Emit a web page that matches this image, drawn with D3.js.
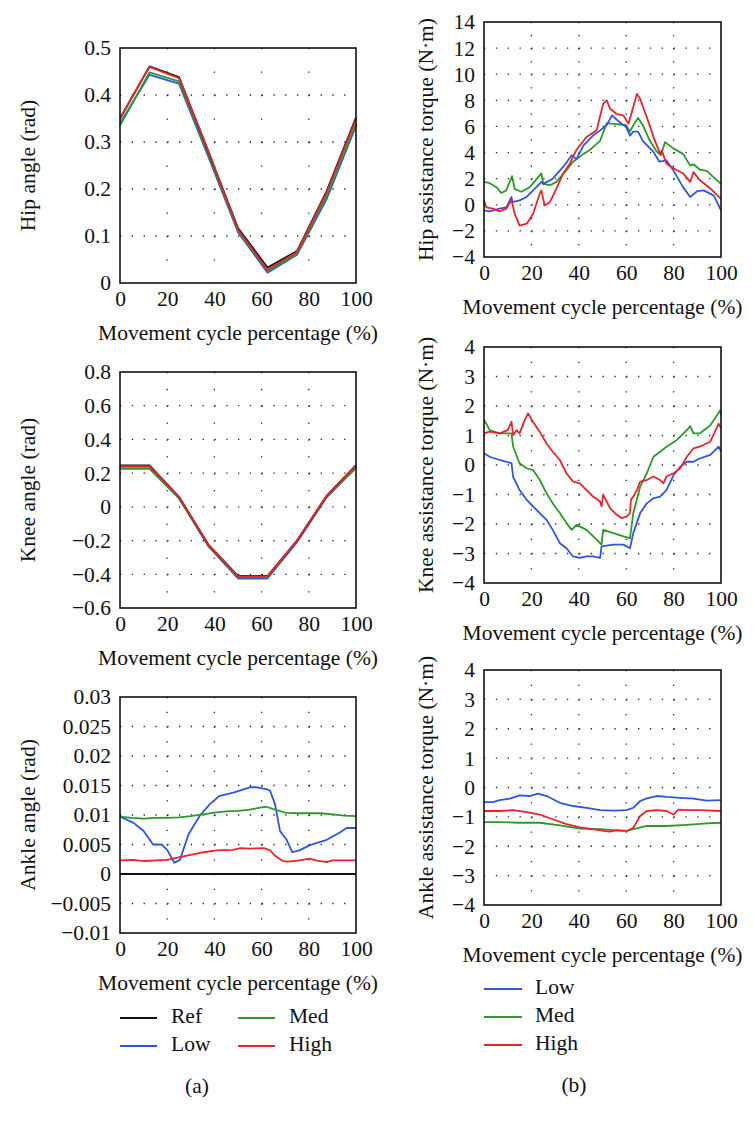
<!DOCTYPE html>
<html>
<head>
<meta charset="utf-8">
<script src="https://cdn.jsdelivr.net/npm/d3@7"></script>
<style>
  body { margin: 0; background: #fff; }
  text { font-family: "Liberation Serif", "DejaVu Serif", serif; fill: #111; }
</style>
</head>
<body>
<svg id="plot"></svg>
<script>
// ---- data ----
const pct = [0, 12.5, 25, 37.5, 50, 62.5, 75, 87.5, 100];

// (a) joint angles
const hipRef  = [0.350, 0.461, 0.438, 0.279, 0.117, 0.033, 0.068, 0.195, 0.352];
const hipLow  = [0.340, 0.443, 0.424, 0.268, 0.108, 0.022, 0.060, 0.178, 0.334];
const hipMed  = [0.335, 0.448, 0.429, 0.273, 0.111, 0.025, 0.062, 0.184, 0.338];
const hipHigh = [0.350, 0.460, 0.436, 0.280, 0.114, 0.028, 0.066, 0.192, 0.348];

const kneeRef  = [0.246, 0.246, 0.060, -0.225, -0.410, -0.410, -0.200, 0.065, 0.248];
const kneeLow  = [0.230, 0.230, 0.052, -0.235, -0.425, -0.425, -0.210, 0.055, 0.235];
const kneeMed  = [0.225, 0.225, 0.050, -0.230, -0.418, -0.418, -0.205, 0.060, 0.230];
const kneeHigh = [0.242, 0.242, 0.058, -0.225, -0.412, -0.412, -0.200, 0.064, 0.245];

const ankleRef = [[0, 0], [100, 0]];
const ankleLow = [[0, 0.0097], [5.6, 0.0087], [10, 0.0073], [14, 0.005], [17.6, 0.005], [20, 0.0041],
  [23, 0.0019], [25.4, 0.0024], [29, 0.0067], [34, 0.010], [38, 0.0118], [42, 0.0132], [48, 0.0138],
  [55, 0.0147], [58, 0.0147], [62, 0.0144], [63.6, 0.0141], [65.7, 0.0118], [67.8, 0.0073],
  [70.6, 0.0058], [73, 0.0037], [76, 0.004], [80.5, 0.0049], [87.6, 0.0058], [93, 0.007],
  [96, 0.0078], [100, 0.0078]];
const ankleMed = [[0, 0.0097], [5, 0.0095], [10, 0.0094], [15, 0.0095], [20, 0.0095], [25, 0.0096],
  [30, 0.0098], [35, 0.0101], [40, 0.0104], [45, 0.0106], [50, 0.0107], [55, 0.0109], [60, 0.0113],
  [62, 0.0114], [65, 0.011], [70, 0.0104], [75, 0.0103], [80, 0.0103], [85, 0.0103], [90, 0.0101],
  [95, 0.0099], [100, 0.0098]];
const ankleHigh = [[0, 0.0023], [5.6, 0.0024], [10, 0.0022], [20, 0.0024], [26.8, 0.003], [34, 0.0036],
  [41, 0.004], [48, 0.0041], [51, 0.0044], [55, 0.0043], [61, 0.0044], [63.6, 0.004], [66, 0.003],
  [69, 0.0022], [71, 0.0021], [76, 0.0023], [80.5, 0.0026], [83, 0.0023], [87.6, 0.002], [90, 0.0023],
  [100, 0.0023]];

// (b) assistance torques
const hipTqLow = [[0, -0.43], [2.4, -0.5], [6.6, -0.3], [9.4, -0.2], [11.6, 0.6], [12, 0.2], [15, 0.34],
  [18, 0.6], [20.7, 1.1], [24.3, 1.75], [25, 1.6], [29, 2.0], [33.4, 2.9], [37, 3.8], [39, 3.5],
  [42, 4.55], [46, 5.3], [49, 5.7], [51.8, 6.1], [54, 6.85], [57.4, 6.3], [60, 5.95], [61.6, 5.3],
  [63, 5.6], [65, 5.6], [67, 4.9], [71.5, 4.05], [74, 3.3], [77, 3.4], [80, 2.6], [84, 1.35],
  [87, 0.6], [90, 1.05], [92.7, 1.1], [97, 0.7], [100, -0.43]];
const hipTqMed = [[0, 1.75], [2.4, 1.65], [5.2, 1.35], [7.3, 0.9], [9.4, 1.1], [11.8, 2.2], [13, 1.2],
  [15.8, 1.0], [19.3, 1.35], [23.5, 2.25], [24.2, 2.4], [25, 1.6], [27.8, 1.5], [30.6, 1.75],
  [34.8, 2.65], [37.6, 3.3], [42, 3.9], [44.7, 4.2], [49, 4.9], [51.8, 6.25], [54.6, 6.2], [57.4, 6.15],
  [60, 6.1], [61.6, 5.6], [63, 6.1], [65, 6.65], [67, 6.1], [70, 4.9], [73, 4.05], [74.6, 3.8],
  [76.4, 4.8], [80, 4.3], [84, 3.9], [87, 3.0], [88.4, 3.1], [91, 2.7], [94, 2.6], [96, 2.25], [100, 1.6]];
const hipTqHigh = [[0, 0.35], [1, -0.2], [3.8, -0.3], [6.6, -0.5], [9.4, -0.3], [11.6, 0.35], [13, -0.7],
  [15, -1.6], [18, -1.45], [20.7, -0.7], [23.5, 0.85], [24.2, 1.1], [25.6, -0.05], [27.8, 0.2],
  [30.6, 1.25], [33.4, 2.4], [36.2, 3.15], [39, 4.2], [43.3, 5.2], [47.5, 5.7], [50.3, 7.75],
  [51.8, 8.0], [53.2, 7.35], [56, 6.95], [58.8, 6.85], [61, 6.2], [63, 7.5], [64.5, 8.5], [65.9, 8.1],
  [68.7, 6.7], [71.5, 5.2], [74.3, 3.9], [75, 4.15], [77, 3.15], [80, 2.8], [84, 2.4], [87, 1.75],
  [88.4, 2.5], [91, 1.9], [95.5, 1.25], [100, 0.45]];

const kneeTqLow = [[0, 0.4], [2.4, 0.28], [6.6, 0.17], [11.6, 0.06], [12.3, -0.4], [15, -0.85], [18, -1.18],
  [20.7, -1.4], [23.5, -1.63], [26.4, -1.86], [29, -2.2], [32, -2.65], [34.8, -2.82], [37.6, -3.1],
  [40.5, -3.15], [43.3, -3.1], [46, -3.1], [49, -3.15], [49.6, -2.76], [54.6, -2.7], [58.8, -2.7],
  [61.6, -2.82], [63, -2.3], [65.9, -1.63], [68.7, -1.3], [71.5, -1.13], [74.3, -1.07], [77, -0.85],
  [80, -0.34], [82.8, -0.06], [85.6, 0.11], [88.4, 0.11], [91, 0.22], [95.5, 0.34], [99, 0.62], [100, 0.45]];
const kneeTqMed = [[0, 1.52], [1, 1.4], [2.4, 1.18], [6.6, 1.07], [11.6, 1.07], [12.3, 0.62], [15, 0.06],
  [18, -0.11], [20.7, -0.17], [23.5, -0.5], [26.4, -0.96], [29, -1.3], [32, -1.63], [34.8, -1.97],
  [37, -2.2], [39, -2.03], [43.3, -2.2], [47.5, -2.53], [49.6, -2.7], [50.3, -2.2], [54.6, -2.31],
  [58.8, -2.42], [61.6, -2.48], [63, -1.63], [65.9, -0.73], [68.7, -0.28], [71.5, 0.28], [74.3, 0.45],
  [77, 0.62], [81.4, 0.85], [85.6, 1.18], [87, 1.32], [88.4, 1.07], [91, 1.07], [95.5, 1.35],
  [99.7, 1.86], [100, 1.69]];
const kneeTqHigh = [[0, 1.07], [2.4, 1.13], [6.6, 1.07], [10, 1.18], [11.6, 1.46], [12.3, 1.01], [13.7, 1.18],
  [15, 1.07], [17.2, 1.52], [18.6, 1.75], [20.7, 1.46], [23.5, 1.13], [26.4, 0.73], [29, 0.45], [32, 0.17],
  [34.8, -0.28], [37.6, -0.56], [40.5, -0.62], [43.3, -0.85], [46, -1.07], [49, -1.24], [49.6, -1.4],
  [50.3, -1.01], [53.2, -1.46], [56, -1.69], [58, -1.8], [60.2, -1.75], [61.6, -1.63], [62, -1.18],
  [63, -1.07], [64.5, -0.85], [65.9, -0.56], [68.7, -0.51], [71.5, -0.39], [74.3, -0.51], [75.7, -0.62],
  [77, -0.39], [80, -0.28], [82.8, -0.11], [85.6, 0.28], [88.4, 0.56], [91, 0.62], [95.5, 0.79],
  [99, 1.4], [100, 1.24]];

const ankleTqLow = [[0, -0.5], [3.8, -0.5], [6.6, -0.43], [10.9, -0.38], [15, -0.27], [19.3, -0.29],
  [22.8, -0.21], [26.4, -0.29], [32, -0.52], [37.6, -0.63], [43.3, -0.69], [49, -0.77], [54.6, -0.79],
  [60.2, -0.77], [63, -0.69], [65.9, -0.46], [68.7, -0.37], [72.9, -0.29], [77, -0.32], [82.8, -0.35],
  [88.4, -0.38], [94, -0.45], [100, -0.43]];
const ankleTqMed = [[0, -1.18], [6.6, -1.18], [15, -1.2], [23.5, -1.2], [32, -1.29], [40.5, -1.4],
  [49, -1.42], [54.6, -1.45], [60.2, -1.48], [63, -1.42], [68.7, -1.31], [77, -1.31], [85.6, -1.27],
  [94, -1.22], [100, -1.2]];
const ankleTqHigh = [[0, -0.8], [6.6, -0.8], [12.3, -0.77], [18, -0.84], [23.5, -0.92], [29, -1.08],
  [34.8, -1.25], [40.5, -1.36], [46, -1.42], [50.3, -1.48], [53.2, -1.5], [56, -1.46], [60.2, -1.48],
  [63, -1.37], [65.9, -0.97], [68.7, -0.8], [72.9, -0.77], [77, -0.8], [80, -0.92], [82, -0.75],
  [85.6, -0.77], [91, -0.77], [100, -0.8]];

const xTicks = [0, 20, 40, 60, 80, 100];
const legendA = ["Ref", "Low", "Med", "High"];
const legendB = ["Low", "Med", "High"];

const colors = { Ref: "#111111", Low: "#2d55e0", Med: "#2a9a2a", High: "#e8242b" };

// ---- layout ----
const svg = d3.select("#plot").attr("width", 754).attr("height", 1133);
const fontSize = 21.5;
const zip = (xs, ys) => xs.map((x, i) => [x, ys[i]]);

function panel(opts) {
  const g = svg.append("g");
  const x = d3.scaleLinear().domain([0, 100]).range([opts.left, opts.right]);
  const y = d3.scaleLinear().domain(opts.yDomain).range([opts.bottom, opts.top]);
  const yTicks = d3.range(opts.yDomain[0], opts.yDomain[1] + opts.yStep / 2, opts.yStep)
    .map(v => +v.toFixed(4));

  // dotted grid
  const hPeriod = x(5) - x(0);
  const vPeriod = (y(0) - y(opts.yStep)) / 2;
  g.selectAll(".hgrid").data(yTicks.slice(1, -1).filter(v => !(opts.noGridAt0 && v === 0)))
    .enter().append("line")
    .attr("x1", x(0)).attr("x2", x(100))
    .attr("y1", d => y(d)).attr("y2", d => y(d))
    .attr("stroke", "#222").attr("stroke-width", 1.3)
    .attr("stroke-dasharray", `1.3 ${hPeriod - 1.3}`);
  g.selectAll(".vgrid").data(xTicks.slice(1, -1))
    .enter().append("line")
    .attr("x1", d => x(d)).attr("x2", d => x(d))
    .attr("y1", y(opts.yDomain[1])).attr("y2", y(opts.yDomain[0]))
    .attr("stroke", "#222").attr("stroke-width", 1.3)
    .attr("stroke-dasharray", `1.3 ${vPeriod - 1.3}`);

  // series
  const line = d3.line().x(d => x(d[0])).y(d => y(d[1]));
  opts.series.forEach(s => {
    g.append("path").datum(s.data)
      .attr("fill", "none")
      .attr("stroke", colors[s.name])
      .attr("stroke-width", s.width || 1.8)
      .attr("stroke-linejoin", "round")
      .attr("d", line);
  });

  // frame
  g.append("rect")
    .attr("x", x(0)).attr("y", y(opts.yDomain[1]))
    .attr("width", x(100) - x(0)).attr("height", y(opts.yDomain[0]) - y(opts.yDomain[1]))
    .attr("fill", "none").attr("stroke", "#111").attr("stroke-width", 1.6);

  // axes (labels only)
  const xAxis = g.append("g")
    .attr("transform", `translate(0,${opts.bottom + 8})`)
    .call(d3.axisBottom(x).tickValues(xTicks).tickSize(0).tickPadding(0).tickFormat(d3.format("d")));
  const yAxis = g.append("g")
    .attr("transform", `translate(${opts.left - 9},0)`)
    .call(d3.axisLeft(y).tickValues(yTicks).tickSize(0).tickPadding(0).tickFormat(d3.format("~g")));
  [xAxis, yAxis].forEach(a => {
    a.select(".domain").remove();
    a.selectAll("text").style("font-size", fontSize + "px")
      .style("font-family", "Liberation Serif, serif").attr("fill", "#111");
  });
  xAxis.selectAll("text").attr("dy", "0.72em");

  // axis titles
  g.append("text")
    .attr("x", (opts.left + opts.right) / 2)
    .attr("y", opts.bottom + 52)
    .attr("text-anchor", "middle").attr("dominant-baseline", "middle")
    .style("font-size", fontSize + "px")
    .text("Movement cycle percentage (%)");
  g.append("text")
    .attr("transform", `translate(${opts.ylabelX},${(opts.top + opts.bottom) / 2}) rotate(-90)`)
    .attr("text-anchor", "middle").attr("dominant-baseline", "middle")
    .style("font-size", fontSize + "px")
    .text(opts.ylabel);
}

const aL = 120, aR = 356, bL = 484, bR = 721;

panel({ left: aL, right: aR, top: 48, bottom: 283, yDomain: [0, 0.5], yStep: 0.1,
  ylabel: "Hip angle (rad)", ylabelX: 30,
  series: [
    { name: "Low", data: zip(pct, hipLow) },
    { name: "Med", data: zip(pct, hipMed) },
    { name: "Ref", data: zip(pct, hipRef) },
    { name: "High", data: zip(pct, hipHigh) }] });

panel({ left: aL, right: aR, top: 372, bottom: 608, yDomain: [-0.6, 0.8], yStep: 0.2,
  ylabel: "Knee angle (rad)", ylabelX: 30,
  series: [
    { name: "Low", data: zip(pct, kneeLow) },
    { name: "Med", data: zip(pct, kneeMed) },
    { name: "Ref", data: zip(pct, kneeRef) },
    { name: "High", data: zip(pct, kneeHigh) }] });

panel({ left: aL, right: aR, top: 697, bottom: 933, yDomain: [-0.01, 0.03], yStep: 0.005,
  ylabel: "Ankle angle (rad)", ylabelX: 30, noGridAt0: true,
  series: [
    { name: "Ref", data: ankleRef, width: 2.2 },
    { name: "Low", data: ankleLow },
    { name: "Med", data: ankleMed },
    { name: "High", data: ankleHigh }] });

panel({ left: bL, right: bR, top: 22, bottom: 257, yDomain: [-4, 14], yStep: 2,
  ylabel: "Hip assistance torque (N·m)", ylabelX: 428,
  series: [
    { name: "Med", data: hipTqMed },
    { name: "Low", data: hipTqLow },
    { name: "High", data: hipTqHigh }] });

panel({ left: bL, right: bR, top: 347, bottom: 583, yDomain: [-4, 4], yStep: 1,
  ylabel: "Knee assistance torque (N·m)", ylabelX: 428,
  series: [
    { name: "Low", data: kneeTqLow },
    { name: "Med", data: kneeTqMed },
    { name: "High", data: kneeTqHigh }] });

panel({ left: bL, right: bR, top: 670, bottom: 905, yDomain: [-4, 4], yStep: 1,
  ylabel: "Ankle assistance torque (N·m)", ylabelX: 428,
  series: [
    { name: "Low", data: ankleTqLow },
    { name: "Med", data: ankleTqMed },
    { name: "High", data: ankleTqHigh }] });

// ---- legends ----
const legA = svg.append("g");
const legAPos = d3.scaleOrdinal().domain(legendA)
  .range([[120, 1018], [120, 1046], [238, 1018], [238, 1046]]);
legendA.forEach(name => {
  const [lx, ly] = legAPos(name);
  legA.append("line").attr("x1", lx).attr("x2", lx + 37).attr("y1", ly).attr("y2", ly)
    .attr("stroke", colors[name]).attr("stroke-width", 1.8);
  legA.append("text").attr("x", lx + 51).attr("y", ly)
    .attr("dominant-baseline", "middle").style("font-size", fontSize + "px").text(name);
});

const legB = svg.append("g");
const legBY = d3.scalePoint().domain(legendB).range([989, 1045]);
legendB.forEach(name => {
  const ly = legBY(name);
  legB.append("line").attr("x1", bL).attr("x2", bL + 38).attr("y1", ly).attr("y2", ly)
    .attr("stroke", colors[name]).attr("stroke-width", 1.8);
  legB.append("text").attr("x", bL + 51).attr("y", ly)
    .attr("dominant-baseline", "middle").style("font-size", fontSize + "px").text(name);
});

svg.append("text").attr("x", 197).attr("y", 1088).attr("text-anchor", "middle")
  .attr("dominant-baseline", "middle").style("font-size", fontSize + "px").text("(a)");
svg.append("text").attr("x", 574).attr("y", 1087).attr("text-anchor", "middle")
  .attr("dominant-baseline", "middle").style("font-size", fontSize + "px").text("(b)");
</script>
</body>
</html>
